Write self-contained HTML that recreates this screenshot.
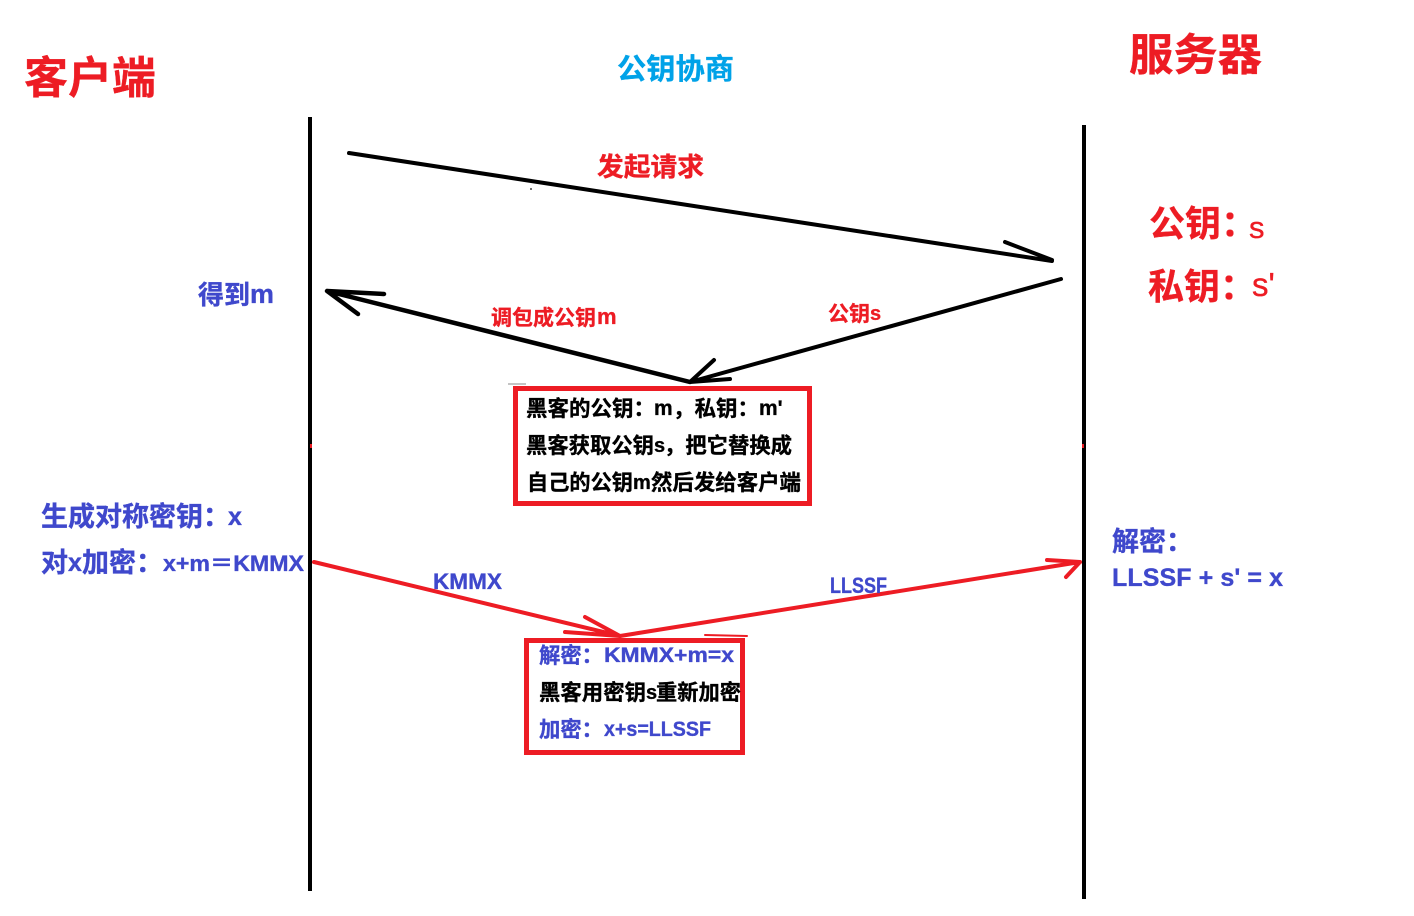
<!DOCTYPE html>
<html><head><meta charset="utf-8"><style>
html,body{margin:0;padding:0;background:#fff}
svg{display:block}
text{font-family:"Liberation Sans","Noto Sans CJK SC",sans-serif;font-weight:700;stroke-width:.35;paint-order:stroke}
.cjk{font-family:"Noto Sans CJK SC","Liberation Sans",sans-serif}
.r{fill:#ed1c24;stroke:#ed1c24}.b{fill:#3f48cc;stroke:#3f48cc}.k{fill:#000;stroke:#000}
</style></head><body>
<svg width="1414" height="916" viewBox="0 0 1414 916" xmlns="http://www.w3.org/2000/svg">
<rect width="1414" height="916" fill="#fff"/>
<g stroke="#000" stroke-linecap="round" stroke-linejoin="round" fill="none">
<line x1="310" y1="117" x2="310" y2="891" stroke-width="4" stroke-linecap="butt"/>
<line x1="1084" y1="125" x2="1084" y2="899" stroke-width="4" stroke-linecap="butt"/>
<path d="M349 153L1052 261M1005 242L1052 260" stroke-width="4"/>
<path d="M1061 279L690 382M714 360L690 382L730 379" stroke-width="4"/>
<path d="M690 382L327 291M384 294L327 291L358 314" stroke-width="4.5"/>
</g>
<line x1="508" y1="384" x2="526" y2="384" stroke="#888" stroke-width="1"/>
<circle cx="531" cy="189" r="1" fill="#444"/>
<rect x="310" y="444" width="2" height="4" fill="#ed1c24"/>
<rect x="1082" y="444" width="2" height="4" fill="#ed1c24"/>
<g stroke="#ed1c24" stroke-linecap="round" stroke-linejoin="round" fill="none">
<path d="M314 562L620 636M585 617L620 636L565 632" stroke-width="4"/>
<path d="M620 636L1080 562M1047 560L1080 562L1066 577" stroke-width="4"/>
<line x1="705" y1="635" x2="747" y2="636" stroke-width="2"/>
</g>
<rect x="515.5" y="388.5" width="294" height="115" fill="none" stroke="#ed1c24" stroke-width="5"/>
<rect x="526.5" y="640.5" width="216" height="112" fill="none" stroke="#ed1c24" stroke-width="5"/>

<text class="cjk r" x="24" y="93" font-size="44" textLength="132" lengthAdjust="spacingAndGlyphs">客户端</text>
<text class="cjk r" x="1129" y="70" font-size="44" textLength="133" lengthAdjust="spacingAndGlyphs">服务器</text>
<text class="cjk" x="617" y="79" font-size="29" fill="#00a2e8" stroke="#00a2e8" textLength="117" lengthAdjust="spacingAndGlyphs">公钥协商</text>
<text class="cjk r" x="597" y="176" font-size="26" textLength="107" lengthAdjust="spacingAndGlyphs">发起请求</text>
<text class="cjk r" x="1149" y="236" font-size="36">公钥：</text>
<text class="r" x="1249" y="238" font-size="31" style="font-weight:400">s</text>
<text class="cjk r" x="1148" y="299" font-size="36">私钥：</text>
<text class="r" x="1252" y="296" font-size="33" style="font-weight:400">s'</text>
<text class="cjk b" x="198" y="304" font-size="26" textLength="52" lengthAdjust="spacingAndGlyphs">得到</text>
<text class="b" x="250" y="303" font-size="27">m</text>
<text class="cjk r" x="491" y="325" font-size="21" textLength="105" lengthAdjust="spacingAndGlyphs">调包成公钥</text>
<text class="r" x="597" y="324" font-size="22">m</text>
<text class="cjk r" x="828" y="321" font-size="21" textLength="42" lengthAdjust="spacingAndGlyphs">公钥</text>
<text class="r" x="870" y="320" font-size="20">s</text>

<text class="cjk k" x="526" y="416" font-size="21.5" textLength="129" lengthAdjust="spacingAndGlyphs">黑客的公钥：</text>
<text class="k" x="654" y="415" font-size="21">m</text>
<text class="cjk k" x="673" y="416" font-size="21.5" textLength="86" lengthAdjust="spacingAndGlyphs">，私钥：</text>
<text class="k" x="759" y="415" font-size="21">m'</text>
<text class="cjk k" x="526" y="453" font-size="21.5" textLength="128" lengthAdjust="spacingAndGlyphs">黑客获取公钥</text>
<text class="k" x="654" y="452" font-size="20">s</text>
<text class="cjk k" x="664" y="453" font-size="21.5" textLength="128" lengthAdjust="spacingAndGlyphs">，把它替换成</text>
<text class="cjk k" x="527" y="490" font-size="21.5" textLength="106" lengthAdjust="spacingAndGlyphs">自己的公钥</text>
<text class="k" x="633" y="489" font-size="20">m</text>
<text class="cjk k" x="651" y="490" font-size="21.5" textLength="150" lengthAdjust="spacingAndGlyphs">然后发给客户端</text>

<text class="cjk b" x="41" y="526" font-size="27" textLength="189" lengthAdjust="spacingAndGlyphs">生成对称密钥：</text>
<text class="b" x="228" y="525" font-size="25">x</text>
<text class="cjk b" x="41" y="572" font-size="27" textLength="27" lengthAdjust="spacingAndGlyphs">对</text>
<text class="b" x="68" y="571" font-size="25">x</text>
<text class="cjk b" x="82" y="572" font-size="27" textLength="81" lengthAdjust="spacingAndGlyphs">加密：</text>
<text class="b" x="163" y="571" font-size="22" textLength="141" lengthAdjust="spacingAndGlyphs">x+m＝KMMX</text>

<text class="b" x="433" y="589" font-size="22.5" textLength="69" lengthAdjust="spacingAndGlyphs">KMMX</text>
<text class="b" x="830" y="593" font-size="22" textLength="57" lengthAdjust="spacingAndGlyphs">LLSSF</text>

<text class="cjk b" x="539" y="663" font-size="21.5" textLength="64" lengthAdjust="spacingAndGlyphs">解密：</text>
<text class="b" x="604" y="662" font-size="21" textLength="130" lengthAdjust="spacingAndGlyphs">KMMX+m=x</text>
<text class="cjk k" x="539" y="700" font-size="21.5" textLength="107" lengthAdjust="spacingAndGlyphs">黑客用密钥</text>
<text class="k" x="646" y="699" font-size="20">s</text>
<text class="cjk k" x="656" y="700" font-size="21.5" textLength="85" lengthAdjust="spacingAndGlyphs">重新加密</text>
<text class="cjk b" x="539" y="737" font-size="21.5" textLength="64" lengthAdjust="spacingAndGlyphs">加密：</text>
<text class="b" x="604" y="736" font-size="21" textLength="107" lengthAdjust="spacingAndGlyphs">x+s=LLSSF</text>

<text class="cjk b" x="1112" y="551" font-size="27">解密：</text>
<text class="b" x="1112" y="586" font-size="25" textLength="171" lengthAdjust="spacing">LLSSF + s' = x</text>
</svg>
</body></html>
